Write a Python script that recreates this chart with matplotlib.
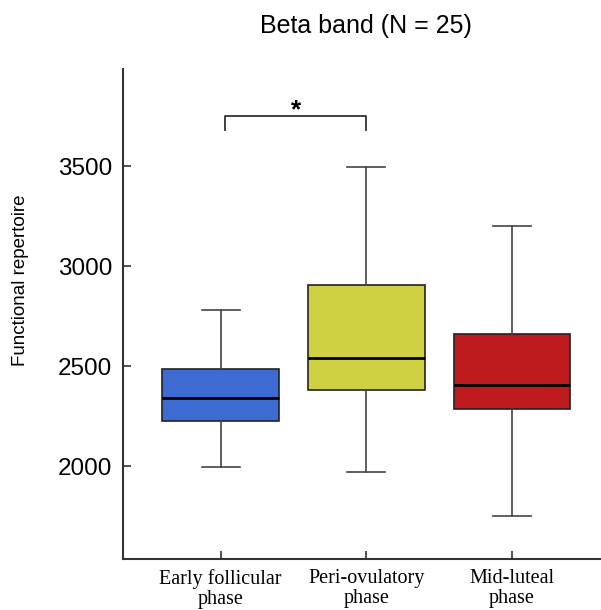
import matplotlib
matplotlib.use("Agg")
import matplotlib.pyplot as plt

# ---- data ----
categories = ["Early follicular\nphase", "Peri-ovulatory\nphase", "Mid-luteal\nphase"]
whislo = [1993, 1972, 1750]
q1 = [2227, 2380, 2285]
med = [2343, 2540, 2405]
q3 = [2485, 2908, 2663]
whishi = [2783, 3495, 3200]
colors = ["#3d6bd2", "#cfd142", "#bd1b1e"]
yticks = [2000, 2500, 3000, 3500]
title = "Beta band (N = 25)"
ylabel = "Functional repertoire"
sig_pair = [1.03, 2.0]
sig_y = [3680, 3750]
sig_label = "*"

fig = plt.figure(figsize=(6.01, 6.10), dpi=100)
ax = fig.add_axes([0.2052, 0.0836, 0.8088, 0.8028])

stats = []
for i in range(len(categories)):
    stats.append(dict(label=categories[i], whislo=whislo[i], q1=q1[i], med=med[i],
                      q3=q3[i], whishi=whishi[i], fliers=[]))

positions = list(range(1, len(categories) + 1))
bp = ax.bxp(stats, positions=positions, widths=0.8, capwidths=0.26, patch_artist=True,
            showfliers=False,
            boxprops=dict(linewidth=1.2, edgecolor="#222222"),
            medianprops=dict(color="black", linewidth=2.0),
            whiskerprops=dict(color="#444444", linewidth=1.2),
            capprops=dict(color="#444444", linewidth=1.2))
for patch, c in zip(bp["boxes"], colors):
    patch.set_facecolor(c)

ax.set_xlim(0.331, 3.669)
ax.set_ylim(1535, 3985)
ax.set_yticks(yticks)
ax.set_yticklabels([str(t) for t in yticks], fontsize=17.5, family="Liberation Sans")
ax.set_xticks(positions)
ax.set_xticklabels(categories, fontsize=14.5, family="Liberation Serif", linespacing=1.05)
ax.tick_params(axis="both", direction="in", length=6, width=1.2, color="#333333")
ax.tick_params(axis="x", pad=7.5)
ax.tick_params(axis="y", pad=8)

for s in ["top", "right"]:
    ax.spines[s].set_visible(False)
for s in ["left", "bottom"]:
    ax.spines[s].set_linewidth(1.5)
    ax.spines[s].set_color("#333333")

fig.text(21 / 601, 1 - 280 / 610, ylabel, rotation=90, ha="center", va="center",
         fontsize=13.5, family="Liberation Sans")

# significance bracket
ax.plot([sig_pair[0], sig_pair[0], sig_pair[1], sig_pair[1]],
        [sig_y[0], sig_y[1], sig_y[1], sig_y[0]], color="#333333", linewidth=1.3)
ax.text((sig_pair[0] + sig_pair[1]) / 2, sig_y[1] - 30, sig_label, ha="center", va="bottom",
        fontsize=19, fontweight="bold", family="Liberation Sans")

fig.text(366 / 601, 1 - 26 / 610, title, ha="center", va="center", fontsize=18,
         family="Liberation Sans")

fig.savefig("out.png", dpi=100)
